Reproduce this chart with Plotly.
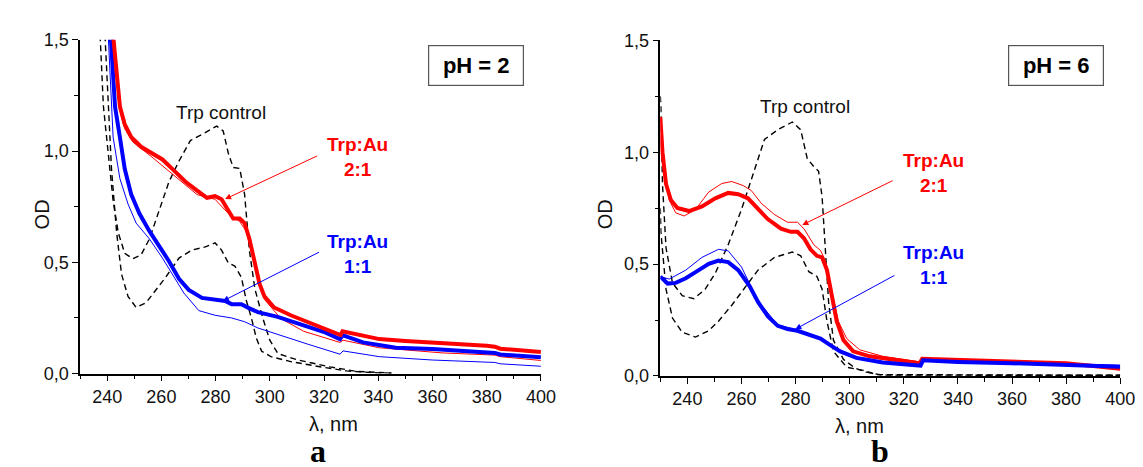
import plotly.graph_objects as go

# ---------------- Panel a (pH = 2) ----------------
a_red_thick_x = [242.2, 244.7, 246.5, 248.9, 252.5, 256.2, 260.4, 264.7, 268.9, 273.2, 276.8, 279.8, 282.2,
                 284.7, 286.5, 288.9, 290.7, 292.5, 294.4, 296.2, 298.0, 301.6, 307.7, 315.0, 322.2, 326.1,
                 326.8, 332.0, 340.4, 350.0, 360.0, 370.0, 380.0, 383.0, 385.0, 400.0]
a_red_thick_y = [1.52, 1.20, 1.119, 1.062, 1.019, 0.993, 0.962, 0.912, 0.862, 0.822, 0.790, 0.797, 0.783,
                 0.733, 0.697, 0.697, 0.676, 0.604, 0.504, 0.404, 0.347, 0.297, 0.262, 0.226, 0.190, 0.173,
                 0.190, 0.175, 0.155, 0.146, 0.140, 0.133, 0.125, 0.121, 0.112, 0.097]

a_red_thin_x = [242.0, 244.5, 246.5, 249.5, 256.2, 264.1, 273.2, 279.8, 284.7, 288.9, 291.3, 294.4, 298.0,
                304.1, 312.5, 325.9, 327.0, 340.4, 363.5, 383.0, 385.0, 400.0]
a_red_thin_y = [1.52, 1.19, 1.10, 1.040, 0.976, 0.897, 0.804, 0.783, 0.719, 0.683, 0.640, 0.490, 0.333,
                0.247, 0.190, 0.140, 0.150, 0.116, 0.093, 0.083, 0.076, 0.059]

a_blue_thick_x = [241.3, 242.9, 244.7, 246.5, 248.9, 251.9, 255.6, 259.2, 262.8, 266.5, 270.1, 275.0, 279.8,
                  283.5, 285.9, 289.5, 292.5, 295.6, 302.9, 310.1, 319.8, 325.9, 326.8, 334.4, 346.5, 360.0,
                  383.0, 385.0, 400.0]
a_blue_thick_y = [1.52, 1.20, 1.062, 0.919, 0.804, 0.719, 0.640, 0.576, 0.505, 0.426, 0.376, 0.340, 0.330,
                  0.326, 0.312, 0.312, 0.293, 0.276, 0.255, 0.226, 0.188, 0.155, 0.173, 0.140, 0.116, 0.111,
                  0.093, 0.086, 0.073]

a_blue_thin_x = [240.4, 242.2, 244.7, 247.7, 250.7, 255.6, 260.4, 264.1, 268.3, 273.8, 279.8, 285.9, 290.7,
                 295.6, 304.1, 313.8, 325.9, 327.0, 340.4, 360.0, 383.0, 385.0, 400.0]
a_blue_thin_y = [1.52, 1.062, 0.876, 0.762, 0.676, 0.605, 0.519, 0.447, 0.362, 0.283, 0.262, 0.250, 0.233,
                 0.205, 0.173, 0.133, 0.087, 0.102, 0.076, 0.061, 0.050, 0.044, 0.033]

a_trp_high_x = [237.4, 238.6, 240.4, 242.2, 244.1, 246.5, 249.5, 252.5, 255.6, 259.2, 262.8, 266.5, 270.7,
                276.2, 280.4, 282.8, 284.7, 286.5, 288.9, 290.7, 292.5, 294.5, 297.4, 300.0, 303.0, 310.1,
                322.2, 332.0, 340.0, 345.0]
a_trp_high_y = [1.52, 1.204, 0.990, 0.776, 0.633, 0.540, 0.516, 0.533, 0.605, 0.733, 0.862, 0.955, 1.047,
                1.083, 1.112, 1.090, 0.990, 0.926, 0.922, 0.805, 0.550, 0.380, 0.250, 0.150, 0.090, 0.062,
                0.030, 0.010, 0.003, 0.002]

a_trp_low_x = [239.2, 240.4, 241.6, 243.5, 245.3, 247.7, 250.7, 254.4, 258.0, 261.6, 266.5, 271.3, 276.2,
               279.8, 282.2, 284.7, 287.1, 289.5, 291.3, 293.2, 295.0, 297.0, 300.4, 307.7, 317.4, 328.3,
               340.0, 345.0]
a_trp_low_y = [1.52, 1.204, 0.919, 0.633, 0.447, 0.347, 0.297, 0.319, 0.376, 0.433, 0.519, 0.555, 0.569,
               0.587, 0.555, 0.497, 0.483, 0.433, 0.330, 0.250, 0.160, 0.100, 0.076, 0.054, 0.033, 0.012,
               0.003, 0.002]

# ---------------- Panel b (pH = 6) ----------------
b_red_thick_x = [230.0, 230.8, 232.1, 233.9, 236.3, 240.6, 245.4, 250.3, 255.1, 258.8, 262.4, 266.1, 269.7,
                 274.6, 278.2, 280.7, 283.1, 285.5, 287.9, 289.8, 291.6, 293.4, 295.2, 297.7, 301.3, 307.4,
                 315.9, 324.4, 325.8, 326.8, 340.0, 360.0, 380.0, 390.0, 400.0]
b_red_thick_y = [1.157, 1.000, 0.858, 0.786, 0.751, 0.737, 0.758, 0.794, 0.818, 0.812, 0.794, 0.744, 0.701,
                 0.658, 0.644, 0.644, 0.615, 0.566, 0.537, 0.530, 0.473, 0.359, 0.245, 0.160, 0.110, 0.088,
                 0.074, 0.063, 0.057, 0.077, 0.071, 0.065, 0.057, 0.045, 0.032]

b_red_thin_x = [230.0, 231.5, 233.3, 235.7, 238.8, 243.0, 247.9, 252.7, 256.4, 260.6, 263.6, 267.3, 272.1,
                277.0, 280.7, 283.1, 286.7, 289.2, 291.0, 293.4, 295.8, 298.9, 303.7, 312.2, 324.4, 325.8,
                326.8, 340.0, 360.0, 380.0, 390.0, 400.0]
b_red_thin_y = [1.157, 0.929, 0.786, 0.729, 0.715, 0.744, 0.822, 0.860, 0.869, 0.851, 0.829, 0.772, 0.722,
                0.687, 0.687, 0.658, 0.587, 0.561, 0.516, 0.373, 0.245, 0.167, 0.117, 0.088, 0.066, 0.060,
                0.078, 0.072, 0.066, 0.058, 0.047, 0.034]

b_blue_thick_x = [230.0, 232.7, 235.7, 239.4, 244.2, 247.9, 251.5, 255.1, 258.8, 263.0, 266.1, 269.7, 273.4,
                  277.0, 280.7, 284.9, 289.2, 292.8, 296.5, 302.5, 312.2, 324.4, 326.2, 327.1, 340.0, 360.0,
                  380.0, 400.0]
b_blue_thick_y = [0.444, 0.413, 0.416, 0.437, 0.473, 0.501, 0.516, 0.509, 0.473, 0.402, 0.331, 0.267, 0.224,
                  0.210, 0.202, 0.185, 0.167, 0.138, 0.110, 0.081, 0.060, 0.048, 0.046, 0.070, 0.063, 0.057,
                  0.051, 0.041]

b_blue_thin_x = [230.0, 233.3, 239.4, 245.4, 251.5, 255.1, 260.0, 263.6, 266.1, 273.4, 280.7, 289.2, 296.5,
                 302.5, 312.2, 324.4, 326.2, 327.1, 340.0, 360.0, 380.0, 400.0]
b_blue_thin_y = [0.444, 0.433, 0.473, 0.530, 0.566, 0.559, 0.487, 0.402, 0.336, 0.228, 0.205, 0.170, 0.114,
                 0.085, 0.064, 0.052, 0.050, 0.073, 0.067, 0.062, 0.056, 0.048]

b_trp_high_x = [230.0, 230.2, 230.8, 232.1, 234.5, 238.1, 242.4, 246.6, 250.3, 255.1, 260.0, 263.6, 268.5,
                273.4, 278.8, 281.9, 284.3, 286.7, 288.5, 289.8, 291.0, 292.2, 294.0, 297.7, 302.0, 306.2,
                312.0, 400.0]
b_trp_high_y = [1.25, 1.21, 0.858, 0.573, 0.416, 0.359, 0.345, 0.388, 0.459, 0.587, 0.744, 0.879, 1.057,
                1.100, 1.135, 1.100, 0.972, 0.936, 0.915, 0.801, 0.573, 0.331, 0.160, 0.074, 0.035, 0.017,
                0.004, 0.003]

b_trp_low_x = [230.0, 230.2, 232.1, 234.5, 238.1, 243.0, 247.9, 251.5, 256.4, 261.2, 266.1, 272.2, 278.8,
               281.9, 284.9, 287.9, 289.8, 291.6, 294.0, 298.9, 305.0, 310.0, 400.0]
b_trp_low_y = [0.75, 0.644, 0.388, 0.259, 0.195, 0.174, 0.202, 0.245, 0.316, 0.395, 0.473, 0.530, 0.554,
               0.537, 0.466, 0.445, 0.388, 0.245, 0.110, 0.039, 0.025, 0.006, 0.003]

# ---------------- Text ----------------
ph_labels = ["pH = 2", "pH = 6"]
panel_letters = ["a", "b"]
ratio_21 = "Trp:Au<br>2:1"
ratio_11 = "Trp:Au<br>1:1"
control_label = "Trp control"
x_title = "λ, nm"
y_title = "OD"

RED = "#ff0000"
BLUE = "#0000ff"
DASH = "6px,4px"
FONT = "Liberation Sans, Arial, sans-serif"
SERIF = "Liberation Serif, Times New Roman, serif"

fig = go.Figure()


def add_panel(xa, ya, curves):
    for (xs, ys, color, width, dash) in curves:
        fig.add_trace(go.Scatter(x=xs, y=ys, mode="lines", xaxis=xa, yaxis=ya,
                                 line=dict(color=color, width=width, dash=dash),
                                 showlegend=False, hoverinfo="skip"))


add_panel("x", "y", [
    (a_trp_high_x, a_trp_high_y, "black", 1.4, DASH),
    (a_trp_low_x, a_trp_low_y, "black", 1.4, DASH),
    (a_blue_thin_x, a_blue_thin_y, BLUE, 1, "solid"),
    (a_red_thin_x, a_red_thin_y, RED, 1, "solid"),
    (a_blue_thick_x, a_blue_thick_y, BLUE, 4, "solid"),
    (a_red_thick_x, a_red_thick_y, RED, 4, "solid"),
])
add_panel("x2", "y2", [
    (b_trp_high_x, b_trp_high_y, "black", 1.4, DASH),
    (b_trp_low_x, b_trp_low_y, "black", 1.4, DASH),
    (b_red_thin_x, b_red_thin_y, RED, 1, "solid"),
    (b_blue_thin_x, b_blue_thin_y, BLUE, 1, "solid"),
    (b_red_thick_x, b_red_thick_y, RED, 4, "solid"),
    (b_blue_thick_x, b_blue_thick_y, BLUE, 4, "solid"),
])

W, H = 1143, 467

xcommon = dict(range=[230, 400], tick0=240, dtick=20, showgrid=False, zeroline=False,
               showline=True, linecolor="black", linewidth=1.5, ticks="outside", ticklen=6,
               tickwidth=1.3, tickcolor="black",
               minor=dict(dtick=10, tick0=230, ticks="outside", ticklen=4, tickwidth=1.3,
                          tickcolor="black", showgrid=False),
               tickfont=dict(family=FONT, size=18, color="#111"), fixedrange=True)
ycommon = dict(range=[0, 1.5], tick0=0, dtick=0.5, tickformat=".1f", showgrid=False, zeroline=False,
               showline=True, linecolor="black", linewidth=1.5, ticks="outside", ticklen=6,
               tickwidth=1.3, tickcolor="black",
               minor=dict(dtick=0.25, ticks="outside", ticklen=4, tickwidth=1.3,
                          tickcolor="black", showgrid=False),
               tickfont=dict(family=FONT, size=18, color="#111"), fixedrange=True)

fig.update_layout(
    width=W, height=H, margin=dict(l=0, r=0, t=0, b=0, pad=0),
    paper_bgcolor="white", plot_bgcolor="white", separators=",.",
    xaxis=dict(domain=[73 / W, 540 / W], anchor="y", **xcommon),
    yaxis=dict(domain=[1 - 371.5 / H, 1 - 22.7 / H], anchor="x", **ycommon),
    xaxis2=dict(domain=[661 / W, 1127 / W], anchor="y2", **xcommon),
    yaxis2=dict(domain=[1 - 374 / H, 1 - 23.3 / H], anchor="x2", **ycommon),
)

ann = []
# axis titles and panel letters (paper coordinates)
for cx, cy in [(22.5, 205), (605, 205)]:
    ann.append(dict(x=cx / W, y=1 - cy / H, xref="paper", yref="paper", text=y_title, showarrow=False,
                    textangle=-90, borderpad=0, font=dict(family=FONT, size=20, color="#111")))
for cx, top in [(304, 412), (889, 414)]:
    ann.append(dict(x=cx / W, y=1 - top / H, xref="paper", yref="paper", text=x_title, showarrow=False,
                    yanchor="top", borderpad=0, font=dict(family=FONT, size=20, color="#111")))
for (cx, bottom), letter in zip([(305, 472), (894, 472)], panel_letters):
    ann.append(dict(x=cx / W, y=1 - bottom / H, xref="paper", yref="paper", text="<b>%s</b>" % letter,
                    showarrow=False, yanchor="bottom", borderpad=0,
                    font=dict(family=SERIF, size=32, color="black")))

# in-plot labels (data coordinates)
for xr, yr, pos in [("x", "y", (282.0, 1.174, 376.2, 1.382, 332.2, 0.971, 332.5, 0.538)),
                    ("x2", "y2", (283.6, 1.205, 376.3, 1.387, 331.0, 0.908, 331.0, 0.498))]:
    cx, cy, px, py, rx, ry, bx, by = pos
    ann.append(dict(x=cx, y=cy, xref=xr, yref=yr, text=control_label, showarrow=False,
                    font=dict(family=FONT, size=19, color="#111")))
    ann.append(dict(x=px, y=py, xref=xr, yref=yr, text="<b>%s</b>" % ph_labels[0 if xr == "x" else 1],
                    showarrow=False, font=dict(family=FONT, size=22, color="black"),
                    bordercolor="#555", borderwidth=1.2, borderpad=2, width=90, height=35,
                    bgcolor="white"))
    ann.append(dict(x=rx, y=ry, xref=xr, yref=yr, text="<b>%s</b>" % ratio_21, showarrow=False,
                    align="center", font=dict(family=FONT, size=19, color=RED)))
    ann.append(dict(x=bx, y=by, xref=xr, yref=yr, text="<b>%s</b>" % ratio_11, showarrow=False,
                    align="center", font=dict(family=FONT, size=19, color=BLUE)))

# arrows
arrows = [
    ("x", "y", 283.5, 0.784, 318.0, 0.981, RED),
    ("x", "y", 282.7, 0.326, 318.7, 0.549, BLUE),
    ("x2", "y2", 282.5, 0.675, 316.4, 0.876, RED),
    ("x2", "y2", 279.9, 0.209, 317.1, 0.453, BLUE),
]
for xr, yr, tx, ty, sx, sy, col in arrows:
    ann.append(dict(x=tx, y=ty, ax=sx, ay=sy, xref=xr, yref=yr, axref=xr, ayref=yr, text="",
                    showarrow=True, arrowhead=2, arrowsize=1.2, arrowwidth=1, arrowcolor=col,
                    standoff=0))

fig.update_layout(annotations=ann)
fig.write_html("out.html")
